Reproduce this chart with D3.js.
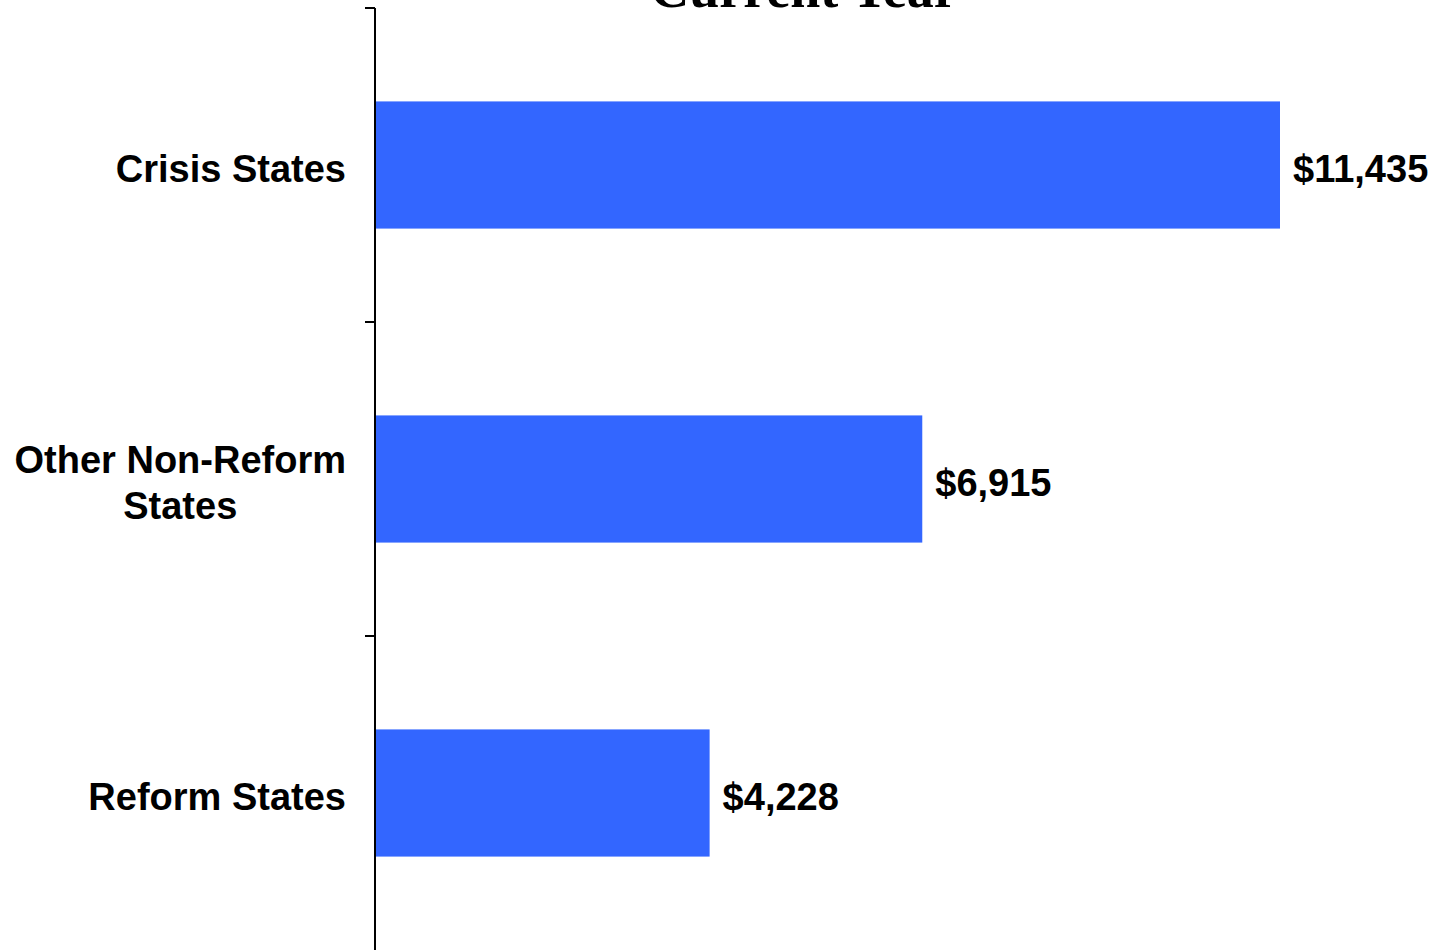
<!DOCTYPE html>
<html>
<head>
<meta charset="utf-8">
<script src="https://cdn.jsdelivr.net/npm/d3@7"></script>
<style>
  html, body { margin: 0; padding: 0; background: #fff; }
  svg { display: block; }
</style>
</head>
<body>
<svg id="chart" width="1434" height="950"></svg>
<script>
const categories = ["Crisis States", "Other Non-Reform States", "Reform States"];
const categoryLines = [["Crisis States"], ["Other Non-Reform", "States"], ["Reform States"]];
const values = [11435, 6915, 4228];
const valueLabels = ["$11,435", "$6,915", "$4,228"];
const title = "Current Year";

const svg = d3.select("#chart");
const W = 1434, H = 950;
const axisX = 375;

const y = d3.scaleBand()
  .domain(categories)
  .range([8, 950])
  .paddingInner(0.595)
  .paddingOuter(0.2975);

const x = d3.scaleLinear()
  .domain([0, 14000])
  .range([axisX, axisX + 905 / 11435 * 14000]);

// Title (cut off at top, as in the original)
svg.append("text")
  .attr("x", 804)
  .attr("y", 7)
  .attr("text-anchor", "middle")
  .attr("font-family", "'Liberation Serif', 'Times New Roman', serif")
  .attr("font-weight", "bold")
  .attr("font-size", 54)
  .attr("fill", "#000")
  .text(title);

// Bars
svg.append("g").selectAll("rect")
  .data(categories)
  .join("rect")
  .attr("x", x(0))
  .attr("y", d => y(d))
  .attr("width", (d, i) => x(values[i]) - x(0))
  .attr("height", y.bandwidth())
  .attr("fill", "#3366FF");

// Axis
const axis = d3.axisLeft(y).tickSize(0).tickFormat("");
const ag = svg.append("g").attr("transform", `translate(${axisX},0)`).call(axis);
ag.select(".domain").attr("stroke", "#000").attr("stroke-width", 2).attr("d", `M0,8V${H}`);
// boundary ticks between bands
const step = y.step();
const tickYs = d3.range(0, categories.length).map(i => 8 + i * step);
ag.selectAll(".btick")
  .data(tickYs)
  .join("line")
  .attr("class", "btick")
  .attr("x1", -10).attr("x2", 0)
  .attr("y1", d => d).attr("y2", d => d)
  .attr("stroke", "#000")
  .attr("stroke-width", 2);

// Category labels
const fontSans = "'Liberation Sans', Arial, Helvetica, sans-serif";
const fs = 38, lh = 46;
const labelRight = 346;
const lg = svg.append("g");
categories.forEach((c, i) => {
  const lines = categoryLines[i];
  const cy = y(c) + y.bandwidth() / 2;
  const base = cy + 16.5 - (lines.length - 1) * lh / 2;
  const t = lg.append("text")
    .attr("font-family", fontSans)
    .attr("font-weight", "bold")
    .attr("font-size", fs)
    .attr("fill", "#000");
  if (lines.length === 1) {
    t.attr("text-anchor", "end").attr("x", labelRight).attr("y", base).text(lines[0]);
  } else {
    const tmp = svg.append("text").attr("font-family", fontSans).attr("font-weight", "bold").attr("font-size", fs);
    let maxW = 0;
    lines.forEach(l => { tmp.text(l); maxW = Math.max(maxW, tmp.node().getComputedTextLength()); });
    tmp.remove();
    const cx = labelRight - maxW / 2;
    t.attr("text-anchor", "middle");
    lines.forEach((l, j) => {
      t.append("tspan").attr("x", cx).attr("y", base + j * lh).text(l);
    });
  }
});

// Value labels
svg.append("g").selectAll("text")
  .data(categories)
  .join("text")
  .attr("x", (d, i) => x(values[i]) + 13)
  .attr("y", d => y(d) + y.bandwidth() / 2 + 16.5)
  .attr("font-family", fontSans)
  .attr("font-weight", "bold")
  .attr("font-size", fs)
  .attr("fill", "#000")
  .text((d, i) => valueLabels[i]);
</script>
</body>
</html>
